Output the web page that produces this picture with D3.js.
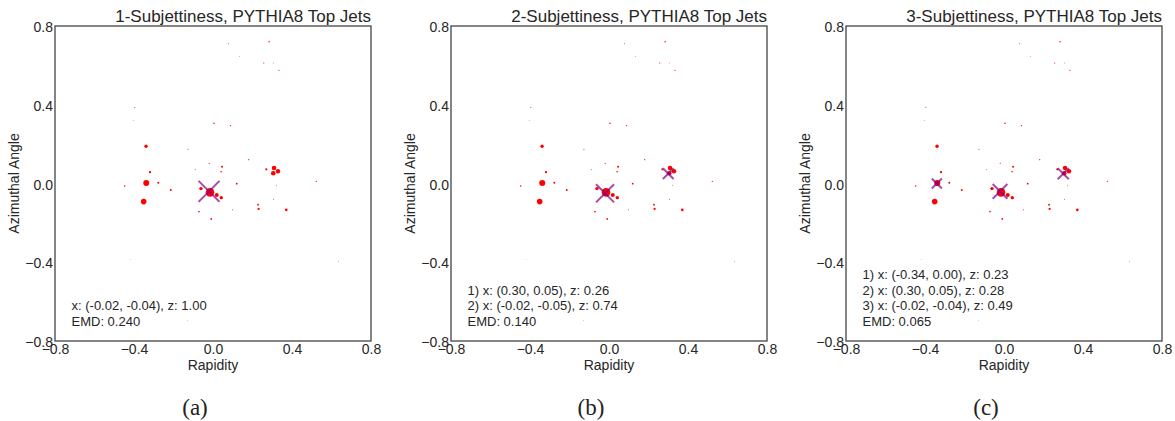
<!DOCTYPE html>
<html><head><meta charset="utf-8">
<script src="https://cdn.jsdelivr.net/npm/d3@7"></script>
<style>body{margin:0;background:#fff}svg{display:block}</style>
</head><body><svg id="c" width="1175" height="421"></svg>
<script>
// particle rapidity, azimuth, relative energy weight (same event in all panels)
const partY   = [-0.339,-0.127,-0.319,-0.338,-0.447,-0.277,-0.214,-0.351,-0.019,0.046,-0.090,0.041,0.181,0.120,-0.061,-0.015,0.019,0.042,-0.071,-0.009,0.098,0.270,0.309,0.329,0.305,0.322,0.523,0.306,0.228,0.231,0.371,0.078,0.284,0.133,0.257,0.305,0.334,-0.396,-0.404,0.005,0.088,-0.420,0.636,-0.130];
const partPhi = [0.189,0.174,0.058,0.003,-0.013,0.004,-0.033,-0.092,0.103,0.085,0.070,0.060,0.121,-0.001,-0.026,-0.045,-0.058,-0.072,-0.143,-0.180,-0.133,0.072,0.079,0.062,0.052,-0.009,0.011,-0.080,-0.108,-0.129,-0.134,0.710,0.720,0.646,0.612,0.612,0.575,0.387,0.321,0.306,0.294,-0.385,-0.395,-0.695];
const partW   = [0.156,0.0135,0.078,0.487,0.035,0.054,0.054,0.424,0.019,0.054,0.0135,0.035,0.019,0.044,0.156,1.0,0.216,0.156,0.035,0.044,0.0135,0.065,0.286,0.262,0.286,0.0087,0.019,0.0135,0.044,0.065,0.091,0.0135,0.027,0.0087,0.019,0.0087,0.019,0.0135,0.0087,0.035,0.019,0.0049,0.0087,0.0049];

const titles = ["1-Subjettiness, PYTHIA8 Top Jets","2-Subjettiness, PYTHIA8 Top Jets","3-Subjettiness, PYTHIA8 Top Jets"];
const subX = [[-0.02],[0.30,-0.02],[-0.34,0.30,-0.02]];
const subPhi = [[-0.04],[0.05,-0.05],[0.00,0.05,-0.04]];
const subZ = [[1.00],[0.26,0.74],[0.23,0.28,0.49]];
const emd = ["0.240","0.140","0.065"];
const captions = ["(a)","(b)","(c)"];
const tickVals = [-0.8,-0.4,0.0,0.4,0.8];

const svg = d3.select("#c");
const font = "'Liberation Sans', Arial, sans-serif";
const W = 316, H = 315, plotTop = 26;
const lefts = [55, 451, 846];
const fmtTick = v => (v<0 ? "\u2212" : "") + Math.abs(v).toFixed(1);
const fmt2 = v => v.toFixed(2);
const rScale = d3.scaleSqrt().domain([0,1]).range([0,4.3]);
const xScaleSize = d3.scaleSqrt().domain([0,1]).range([0,10.5]);
const particles = partY.map((y,i)=>({y, phi: partPhi[i], w: partW[i]}));

lefts.forEach((L, p) => {
  const x = d3.scaleLinear().domain([-0.8,0.8]).range([L, L+W]);
  const y = d3.scaleLinear().domain([-0.8,0.8]).range([plotTop+H, plotTop]);
  const g = svg.append("g");

  // particles
  g.append("g").selectAll("circle").data(particles).join("circle")
    .attr("cx", d=>x(d.y)).attr("cy", d=>y(d.phi)).attr("r", d=>rScale(d.w))
    .attr("fill", "#ff0000");

  // subjet crosses
  const subs = subX[p].map((sx,i)=>({x:sx, phi:subPhi[p][i], z:subZ[p][i]}));
  const cg = g.append("g").attr("stroke","#800080").attr("stroke-opacity",0.7).attr("stroke-width",2);
  subs.forEach(s => {
    const cx = x(s.x), cy = y(s.phi), h = xScaleSize(s.z);
    cg.append("line").attr("x1",cx-h).attr("y1",cy-h).attr("x2",cx+h).attr("y2",cy+h);
    cg.append("line").attr("x1",cx-h).attr("y1",cy+h).attr("x2",cx+h).attr("y2",cy-h);
  });

  // frame
  g.append("rect").attr("x",L).attr("y",plotTop).attr("width",W).attr("height",H)
    .attr("fill","none").attr("stroke","#444").attr("stroke-width",1.3);

  // axes
  const xa = d3.axisBottom(x).tickValues(tickVals).tickFormat(fmtTick).tickSize(0).tickPadding(0);
  const ya = d3.axisLeft(y).tickValues(tickVals).tickFormat(fmtTick).tickSize(0).tickPadding(0);
  const xg = g.append("g").attr("transform",`translate(0,${plotTop+H})`).call(xa);
  const yg = g.append("g").attr("transform",`translate(${L},0)`).call(ya);
  [xg,yg].forEach(a=>{a.select(".domain").remove();
    a.selectAll("text").attr("font-family",font).attr("font-size",14).attr("fill","#262626");});
  xg.selectAll("text").attr("dy",null).attr("y",12.5);
  yg.selectAll("text").attr("dy",null).attr("x",-2).attr("y",5.5);

  // titles and labels
  g.append("text").attr("x",L+W).attr("y",22).attr("text-anchor","end")
    .attr("font-family",font).attr("font-size",17).attr("fill","#262626").text(titles[p]);
  g.append("text").attr("x",L+W/2).attr("y",370).attr("text-anchor","middle")
    .attr("font-family",font).attr("font-size",14).attr("fill","#262626").text("Rapidity");
  g.append("text").attr("transform",`translate(${L-36},${plotTop+H/2}) rotate(-90)`).attr("text-anchor","middle")
    .attr("font-family",font).attr("font-size",14).attr("fill","#262626").text("Azimuthal Angle");

  // annotation
  const lines = subs.length===1
    ? [`x: (${fmt2(subs[0].x)}, ${fmt2(subs[0].phi)}), z: ${fmt2(subs[0].z)}`]
    : subs.map((s,i)=>`${i+1}) x: (${fmt2(s.x)}, ${fmt2(s.phi)}), z: ${fmt2(s.z)}`);
  lines.push(`EMD: ${emd[p]}`);
  const n = lines.length;
  g.append("g").selectAll("text").data(lines).join("text")
    .attr("x", L+16.5).attr("y",(d,i)=>326 - (n-1-i)*15.7)
    .attr("font-family",font).attr("font-size",13).attr("fill","#262626").text(d=>d);

  // caption
  g.append("text").attr("x",L+140).attr("y",415).attr("text-anchor","middle")
    .attr("font-family","'Liberation Serif','DejaVu Serif',serif").attr("font-size",23).attr("fill","#222").text(captions[p]);
});
</script></body></html>
